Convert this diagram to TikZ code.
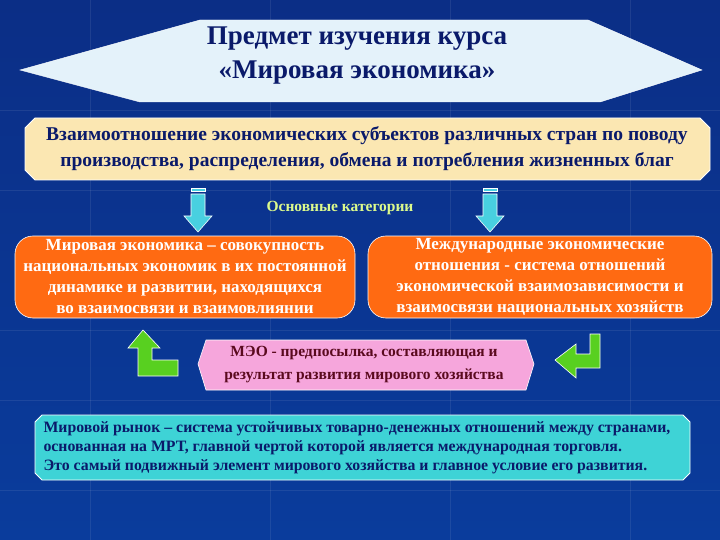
\documentclass[tikz,border=0pt]{standalone}
\usepackage{fontspec}
\setmainfont{Liberation Serif}
\usetikzlibrary{arrows.meta}
\definecolor{bgtop}{HTML}{0B2E86}
\definecolor{bgbot}{HTML}{0A3C9C}
\definecolor{navy}{HTML}{0A1A6A}
\definecolor{ttl}{HTML}{E4F2FA}
\definecolor{yel}{HTML}{FBE7B2}
\definecolor{org}{HTML}{FF6A12}
\definecolor{pnk}{HTML}{F6A6DC}
\definecolor{cyn}{HTML}{3ED3D6}
\definecolor{arr}{HTML}{48D0E0}
\definecolor{grn}{HTML}{58D020}
\tikzset{
 txt/.style={font=\bfseries, align=center, text=navy},
 downarr/.style={fill=arr, draw=white, line width=0.6pt},
 greenarr/.style={fill=grn, draw=white, line width=0.6pt},
}
\begin{document}
\begin{tikzpicture}[x=1pt,y=-1pt]
\useasboundingbox (0,0) rectangle (720,540);
\shade[top color=bgtop, bottom color=bgbot] (0,0) rectangle (720,540);
\foreach \yy in {110,190,330,400,490} \draw[white, opacity=0.08] (0,\yy) -- (720,\yy);
\foreach \xx in {90,270,450,630} \draw[white, opacity=0.08] (\xx,0) -- (\xx,540);
% title
\filldraw[fill=ttl, draw=white] (20,70) -- (200,20) -- (588,20) -- (702,70) -- (600,102) -- (140,102) -- cycle;
\node[txt, font=\bfseries\fontsize{27}{34}\selectfont] (title) at (357,56) {Предмет изучения курса\\«Мировая экономика»};
% yellow box
\filldraw[fill=yel, draw=white, line width=0.8pt] (35,118) -- (700,118) -- (710,128) -- (710,170) -- (700,180) -- (35,180) -- (25,170) -- (25,128) -- cycle;
\node[txt, font=\bfseries\fontsize{19.5}{26}\selectfont] (sub) at (367,149) {Взаимоотношение экономических субъектов различных стран по поводу\\производства, распределения, обмена и потребления жизненных благ};
% categories label
\node[font=\bfseries\fontsize{15.5}{18}\selectfont, text={rgb,255:red,220;green,250;blue,140}] (cat) at (340,208) {Основные категории};
% down arrows
\foreach \cx in {198,490}{
 \filldraw[downarr] (\cx-7,188) rectangle (\cx+7,191);
 \filldraw[downarr] (\cx-7,194) -- (\cx+7,194) -- (\cx+7,216) -- (\cx+14,216) -- (\cx,232) -- (\cx-14,216) -- (\cx-7,216) -- cycle;
}
% orange boxes
\filldraw[fill=org, draw=white, line width=0.6pt, rounded corners=18pt] (15,236) rectangle (355,318);
\node[txt, text=white, font=\bfseries\fontsize{17}{21}\selectfont] (me) at (185,277) {Мировая экономика – совокупность\\национальных экономик в их постоянной\\динамике и развитии, находящихся\\во взаимосвязи и взаимовлиянии};
\filldraw[fill=org, draw=white, line width=0.6pt, rounded corners=18pt] (368,236) rectangle (712,318);
\node[txt, text=white, font=\bfseries\fontsize{17}{21}\selectfont] (mer) at (540,277) {Международные экономические\\отношения - система отношений\\экономической взаимозависимости и\\взаимосвязи национальных хозяйств};
% pink hexagon
\filldraw[fill=pnk, draw=white, line width=0.6pt] (206,340) -- (526,340) -- (534,364) -- (526,390) -- (206,390) -- (198,364) -- cycle;
\node[txt, text={rgb,255:red,90;green,10;blue,30}, font=\bfseries\fontsize{15.5}{23}\selectfont] (meo) at (364,365) {МЭО - предпосылка, составляющая и\\результат развития мирового хозяйства};
% green arrows
\filldraw[greenarr] (143,330) -- (160,348) -- (152,348) -- (152,360) -- (178,360) -- (178,376) -- (138,376) -- (138,348) -- (128,348) -- cycle;
\filldraw[greenarr] (590,334) -- (600,334) -- (600,368) -- (576,368) -- (576,378) -- (555,360) -- (576,344) -- (576,354) -- (590,354) -- cycle;
% cyan box
\filldraw[fill=cyn, draw=white, line width=0.8pt] (42,415) -- (683,415) -- (690,422) -- (690,473) -- (683,480) -- (42,480) -- (35,473) -- (35,422) -- cycle;
\node[txt, align=left, anchor=west, font=\bfseries\fontsize{15.8}{19}\selectfont] (mr) at (40,448) {Мировой рынок – система устойчивых товарно-денежных отношений между странами,\\основанная на МРТ, главной чертой которой является международная торговля.\\Это самый подвижный элемент мирового хозяйства и главное условие его развития.};
\end{tikzpicture}
\end{document}
